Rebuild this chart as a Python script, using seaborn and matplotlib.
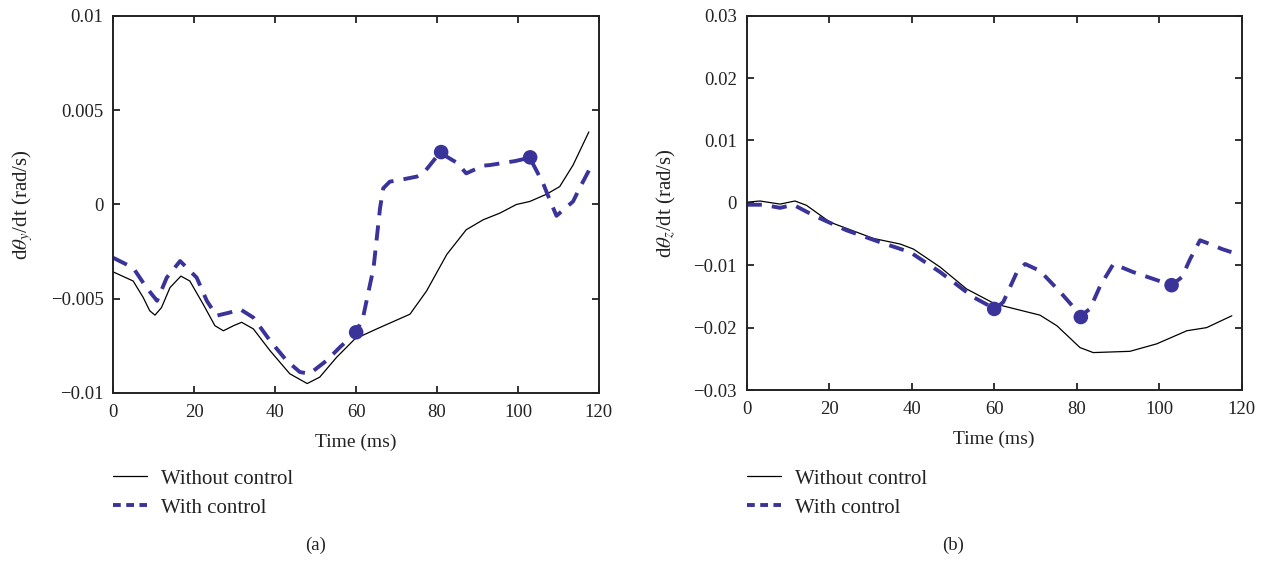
import numpy as np
import pandas as pd
import matplotlib
matplotlib.use("Agg")
import matplotlib.pyplot as plt
import seaborn as sns
from matplotlib.lines import Line2D

# ---------------- data ----------------
# Panel (a): dtheta_y/dt
a_wo_t = [0, 4.9, 7.4, 9.0, 10.3, 11.9, 14.0, 16.7, 18.9, 22.2, 25.1, 27.2, 29.7, 31.7,
          34.6, 38.7, 43.6, 47.9, 51.0, 55.2, 59.7, 65.1, 73.3, 77.4, 82.4, 87.2, 91.4,
          95.5, 99.6, 102.9, 107.0, 110.3, 113.6, 117.5]
a_wo_v = [-0.00358, -0.00406, -0.00494, -0.00564, -0.00587, -0.00547, -0.00441, -0.00380,
          -0.00406, -0.00529, -0.00643, -0.00670, -0.00643, -0.00625, -0.00660, -0.00775,
          -0.00898, -0.00950, -0.00916, -0.00810, -0.00713, -0.00660, -0.00582, -0.00459,
          -0.00265, -0.00134, -0.00081, -0.00046, 0.00000, 0.00016, 0.00054, 0.00095,
          0.00209, 0.00385]
a_w_t = [0, 4.9, 8.2, 10.8, 13.2, 16.5, 20.6, 23.1, 25.5, 28.8, 31.3, 34.6, 38.7, 42.8,
         46.1, 48.5, 52.7, 56.0, 60.0, 61.7, 64.3, 65.9, 66.7, 68.3, 70.8, 75.0, 76.6,
         80.7, 85.0, 87.2, 91.4, 93.0, 99.2, 102.9, 106.2, 108.0, 109.5, 113.6, 115.2, 117.5]
a_w_v = [-0.00283, -0.00336, -0.00441, -0.00511, -0.00388, -0.00300, -0.00388, -0.00511,
         -0.00590, -0.00573, -0.00555, -0.00600, -0.00722, -0.00828, -0.00889, -0.00898,
         -0.00828, -0.00757, -0.00678, -0.00600, -0.00336, -0.00020, 0.00086, 0.00121,
         0.00130, 0.00148, 0.00165, 0.00275, 0.00220, 0.00165, 0.00206, 0.00209, 0.00230,
         0.00248, 0.00112, 0.00016, -0.00060, 0.00016, 0.00086, 0.00180]
a_mark_t = [60, 81, 103]
a_mark_v = [-0.00678, 0.00278, 0.00250]

# Panel (b): dtheta_z/dt
b_wo_t = [0, 3.2, 8.1, 11.7, 14.5, 20.2, 30.7, 37.2, 40.4, 46.9, 53.3, 60.2, 71.1, 75.2,
          80.8, 84.0, 92.9, 99.4, 106.7, 111.5, 117.6]
b_wo_v = [0.0001, 0.0003, -0.0002, 0.0003, -0.0004, -0.0031, -0.0057, -0.0066, -0.0074,
          -0.0103, -0.0138, -0.0162, -0.0180, -0.0197, -0.0232, -0.0240, -0.0238, -0.0226,
          -0.0205, -0.0200, -0.0181]
b_w_t = [0, 4.0, 8.1, 11.3, 16.2, 24.2, 32.3, 39.6, 46.9, 54.9, 60.2, 62.2, 65.5, 67.5,
         71.1, 76.0, 79.2, 80.8, 83.2, 85.7, 88.9, 93.7, 98.6, 103.0, 105.5, 107.5, 109.9,
         112.3, 115.2, 117.5]
b_w_v = [-0.0003, -0.0003, -0.0008, -0.0003, -0.0020, -0.0044, -0.0063, -0.0079, -0.0111,
         -0.0151, -0.0170, -0.0159, -0.0111, -0.0098, -0.0109, -0.0143, -0.0167, -0.0182,
         -0.0170, -0.0133, -0.0098, -0.0111, -0.0122, -0.0132, -0.0119, -0.0090, -0.0060,
         -0.0066, -0.0074, -0.0079]
b_mark_t = [60, 81, 103]
b_mark_v = [-0.0170, -0.0183, -0.0132]

x_ticks = [0, 20, 40, 60, 80, 100, 120]
a_yticks = [-0.01, -0.005, 0, 0.005, 0.01]
a_yticklabels = ["\u22120.01", "\u22120.005", "0", "0.005", "0.01"]
b_yticks = [-0.03, -0.02, -0.01, 0, 0.01, 0.02, 0.03]
b_yticklabels = ["\u22120.03", "\u22120.02", "\u22120.01", "0", "0.01", "0.02", "0.03"]
legend_labels = ["Without control", "With control"]
panel_labels = ["(a)", "(b)"]
x_label = "Time (ms)"
y_labels = [r"d$\theta_y$/dt (rad/s)", r"d$\theta_z$/dt (rad/s)"]

# ---------------- style ----------------
sns.set_theme(style="white")
plt.rcParams["font.family"] = ["Liberation Serif", "DejaVu Serif"]
plt.rcParams["mathtext.fontset"] = "stix"

BLUE = "#3a3399"
DASH_LW = 2.8
TXT = "#222222"

fig = plt.figure(figsize=(12.69, 5.61), dpi=100)
ax1 = fig.add_axes([0.0893, 0.2995, 0.3827, 0.6720])
ax2 = fig.add_axes([0.5884, 0.3048, 0.3901, 0.6672])


def draw(ax, wo_t, wo_v, w_t, w_v, mk_t, mk_v, ylim, yticks, yticklabels, ylabel):
    df_wo = pd.DataFrame({"t": wo_t, "v": wo_v})
    df_w = pd.DataFrame({"t": w_t, "v": w_v})
    df_mk = pd.DataFrame({"t": mk_t, "v": mk_v})
    sns.lineplot(data=df_wo, x="t", y="v", ax=ax, color="black", lw=0.9, sort=False,
                 estimator=None)
    sns.lineplot(data=df_w, x="t", y="v", ax=ax, color=BLUE, lw=DASH_LW, sort=False,
                 estimator=None, linestyle=(0, (3.9, 2.6)))
    sns.scatterplot(data=df_mk, x="t", y="v", ax=ax, color=BLUE, s=110, edgecolor="none",
                    zorder=5)
    ax.set_xlim(0, 120)
    ax.set_ylim(*ylim)
    ax.set_xticks(x_ticks)
    ax.set_xticklabels([str(v) for v in x_ticks])
    ax.set_yticks(yticks)
    ax.set_yticklabels(yticklabels)
    ax.tick_params(direction="in", length=5, width=1.3, top=True, right=True,
                   bottom=True, left=True, labelsize=13.5, colors=TXT, pad=7,
                   labeltop=False, labelright=False, labelbottom=True, labelleft=True)
    ax.tick_params(axis="x", pad=8)
    for sp in ax.spines.values():
        sp.set_color(TXT)
        sp.set_linewidth(1.4)
    ax.set_xlabel(x_label, fontsize=14, labelpad=9, color=TXT)
    ax.set_ylabel(ylabel, fontsize=15, labelpad=11, color=TXT)
    ax.grid(False)


draw(ax1, a_wo_t, a_wo_v, a_w_t, a_w_v, a_mark_t, a_mark_v, (-0.01, 0.01),
     a_yticks, a_yticklabels, y_labels[0])
draw(ax2, b_wo_t, b_wo_v, b_w_t, b_w_v, b_mark_t, b_mark_v, (-0.03, 0.03),
     b_yticks, b_yticklabels, y_labels[1])

# legends below each panel
handles = [Line2D([0], [0], color="black", lw=0.9),
           Line2D([0], [0], color=BLUE, lw=DASH_LW, dashes=(2.0, 1.4))]
for ax, x0 in [(ax1, 113 / 1269), (ax2, 747 / 1269)]:
    fig.legend(handles, legend_labels, loc="upper left",
               bbox_to_anchor=(x0, 1 - 469 / 561), frameon=False, fontsize=15,
               handlelength=1.65, handletextpad=0.65, labelspacing=0.45, borderaxespad=0,
               borderpad=0, labelcolor=TXT)

fig.text(316 / 1269, 1 - 545 / 561, panel_labels[0], ha="center", va="center",
         fontsize=13.5, color=TXT)
fig.text(953 / 1269, 1 - 545 / 561, panel_labels[1], ha="center", va="center",
         fontsize=13.5, color=TXT)

fig.savefig("out.png", dpi=100)
